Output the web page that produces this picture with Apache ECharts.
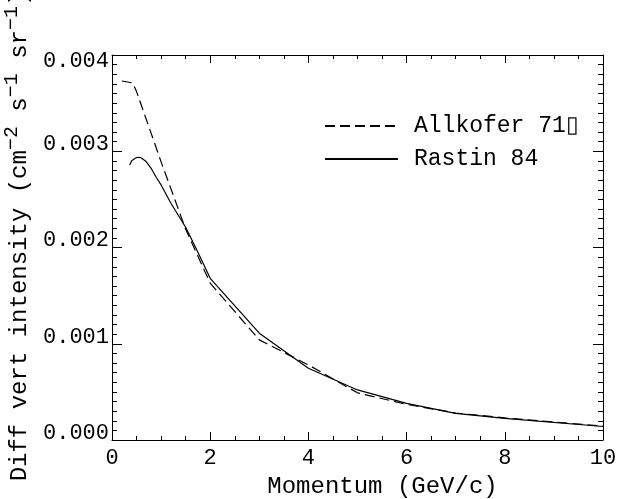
<!DOCTYPE html>
<html>
<head>
<meta charset="utf-8">
<script src="https://cdn.jsdelivr.net/npm/echarts@6/dist/echarts.min.js"></script>
<style>
  html, body { margin: 0; padding: 0; background: #fff; }
  #chart { width: 632px; height: 499px; }
</style>
</head>
<body>
<div id="chart"></div>
<script>
// momentum (GeV/c) and intensity
var allkoferP = [0.2, 0.42, 0.5, 1.0, 1.5, 2.0, 3.0, 4.0, 5.0, 6.0, 7.0, 8.0, 10.0];
var allkoferI = [0.00373, 0.00371, 0.00362, 0.00289, 0.00219, 0.00163, 0.00104, 0.00078, 0.00049, 0.00037, 0.00028, 0.00023, 0.000145];

var rastinP = [0.36, 0.4, 0.45, 0.5, 0.55, 0.6, 0.7, 0.8, 0.9, 1.0, 1.2, 1.5, 1.75, 2.0, 3.0, 4.0, 5.0, 6.0, 7.0, 8.0, 10.0];
var rastinI = [0.002857, 0.0029, 0.00292, 0.002935, 0.002937, 0.00293, 0.00289, 0.00282, 0.00273, 0.00265, 0.00246, 0.00221, 0.00195, 0.00168, 0.00111, 0.000745, 0.00052, 0.00038, 0.000277, 0.000225, 0.00014];

var seriesNames = ['Allkofer 71\u25AF', 'Rastin 84'];

function pairs(xs, ys) {
	var out = [];
	for (var i = 0; i < xs.length; i++) {
		out.push([xs[i], ys[i]]);
	}
	return out;
}

var font = 'Liberation Mono';
var dom = document.getElementById('chart');
var chart = echarts.init(dom);

function xAx(pos, show) {
	return {
		type: 'value',
		position: pos,
		min: 0,
		max: 10,
		interval: 2,
		name: show ? 'Momentum (GeV/c)' : '',
		nameLocation: 'middle',
		nameGap: 35,
		nameTextStyle: { fontFamily: font, fontSize: 24, color: '#000', padding: [0, 0, 0, 50] },
		axisLine: { show: true, onZero: false, lineStyle: { color: '#000', width: 1 } },
		axisTick: { show: true, inside: true, length: 8, lineStyle: { color: '#000' } },
		minorTick: { show: true, splitNumber: 4, length: 4, lineStyle: { color: '#000' } },
		splitLine: { show: false },
		minorSplitLine: { show: false },
		axisLabel: { show: show, fontFamily: font, fontSize: 22, color: '#000', margin: 7 }
	};
}

function yAx(pos, show) {
	return {
		type: 'value',
		position: pos,
		min: 0,
		max: 0.004,
		interval: 0.001,
		name: show ? '{m|Diff vert intensity (cm}{s|\u22122}{m| s}{s|\u22121}{m| sr}{s|\u22121}{m|)}' : '',
		nameLocation: 'middle',
		nameGap: 74,
		nameTextStyle: {
			fontFamily: font,
			color: '#000',
			padding: [0, 0, 0, 22],
			rich: {
				m: { fontFamily: font, fontSize: 24, lineHeight: 30, verticalAlign: 'bottom', color: '#000' },
				s: { fontFamily: font, fontSize: 20, lineHeight: 20, verticalAlign: 'top', color: '#000' }
			}
		},
		axisLine: { show: true, onZero: false, lineStyle: { color: '#000', width: 1 } },
		axisTick: { show: true, inside: true, length: 10, lineStyle: { color: '#000' } },
		minorTick: { show: true, splitNumber: 10, length: 5, lineStyle: { color: '#000' } },
		splitLine: { show: false },
		minorSplitLine: { show: false },
		axisLabel: {
			show: show,
			margin: 3,
			formatter: function (v) {
				if (v >= 0.004) return '{t|' + v.toFixed(3) + '}';
				return '{n|' + v.toFixed(3) + '}';
			},
			rich: {
				n: { fontFamily: font, fontSize: 22, color: '#000', padding: [0, 0, 14, 0] },
				t: { fontFamily: font, fontSize: 22, color: '#000', padding: [12, 0, 0, 0] }
			}
		}
	};
}

var option = {
	animation: false,
	backgroundColor: '#fff',
	grid: { left: 112, right: 29, top: 55, bottom: 59, containLabel: false, outerBoundsMode: 'none' },
	legend: {
		orient: 'vertical',
		left: 319,
		top: 109,
		itemWidth: 73,
		itemHeight: 14,
		itemGap: 9,
		data: seriesNames,
		itemStyle: { opacity: 0 },
		textStyle: { fontFamily: font, fontSize: 23, color: '#000', lineHeight: 24, padding: [0, 0, 0, 11] }
	},
	xAxis: [xAx('bottom', true), xAx('top', false)],
	yAxis: [yAx('left', true), yAx('right', false)],
	series: [
		{
			name: seriesNames[0],
			type: 'line',
			xAxisIndex: 0,
			yAxisIndex: 0,
			symbol: 'none',
			data: pairs(allkoferP, allkoferI),
			lineStyle: { color: '#000', width: 1.2, type: [10, 5] },
			itemStyle: { color: '#000' }
		},
		{
			name: seriesNames[1],
			type: 'line',
			xAxisIndex: 0,
			yAxisIndex: 0,
			symbol: 'none',
			data: pairs(rastinP, rastinI),
			lineStyle: { color: '#000', width: 1.2 },
			itemStyle: { color: '#000' }
		}
	]
};

chart.setOption(option, true);
window.addEventListener('resize', function () {
	chart.resize();
});
</script>
</body>
</html>
